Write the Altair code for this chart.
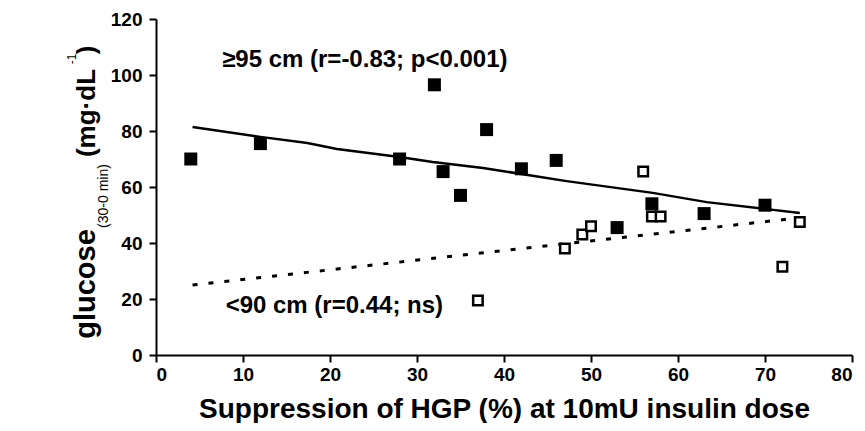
import altair as alt
import pandas as pd

# Data
filled_x = [4, 12, 28, 32, 33, 35, 38, 42, 46, 53, 57, 63, 70]
filled_y = [70, 75.5, 70, 96.5, 65.5, 57, 80.5, 66.5, 69.5, 45.5, 54, 50.5, 53.5]
open_x = [37, 47, 49, 50, 56, 57, 58, 72, 74]
open_y = [19.5, 38, 43, 46, 65.5, 49.5, 49.5, 31.5, 47.5]
fit_large_x = [4.2, 12, 17.4, 20.8, 28, 31.8, 37.6, 47.2, 57.1, 63.3, 70.2, 74]
fit_large_y = [81.4, 77.9, 75.7, 73.6, 70.7, 68.9, 66.8, 62.1, 57.9, 54.6, 52.1, 50.7]
fit_small_x = [4.2, 74]
fit_small_y = [25, 49]

ann_text = ["\u226595 cm (r=-0.83; p<0.001)", "<90 cm (r=0.44; ns)"]
ann_x = [24, 20.5]
ann_y = [103, 15]

FONT = "Liberation Sans"

filled = pd.DataFrame({"x": filled_x, "y": filled_y})
opened = pd.DataFrame({"x": open_x, "y": open_y})
fit_l = pd.DataFrame({"x": fit_large_x, "y": fit_large_y})
fit_s = pd.DataFrame({"x": fit_small_x, "y": fit_small_y})
ann = pd.DataFrame({"x": ann_x, "y": ann_y, "t": ann_text})

xs = alt.Scale(domain=[0, 80], nice=False, zero=False)
ys = alt.Scale(domain=[0, 120], nice=False, zero=False)

xax = alt.Axis(values=list(range(0, 81, 10)), title="Suppression of HGP (%) at 10mU insulin dose",
               grid=False, labelFontSize=19, labelFontWeight="bold", labelFont=FONT,
               titleFontSize=28, titleFont=FONT, titleFontWeight="bold", titlePadding=11,
               tickSize=7, tickWidth=2, domainWidth=2, domainColor="black", tickColor="black",
               labelColor="black", titleColor="black", labelPadding=3)
yax = alt.Axis(values=list(range(0, 121, 20)), title="", grid=False, labelFontSize=19,
               labelFontWeight="bold", labelFont=FONT, tickSize=7, tickWidth=2, domainWidth=2,
               domainColor="black", tickColor="black", labelColor="black", labelPadding=7)

base_x = alt.X("x:Q", scale=xs, axis=xax)
base_y = alt.Y("y:Q", scale=ys, axis=yax)

line_l = alt.Chart(fit_l).mark_line(color="black", strokeWidth=2.5).encode(x=base_x, y=base_y)
line_s = alt.Chart(fit_s).mark_line(color="black", strokeWidth=3, strokeDash=[5, 11]).encode(x=base_x, y=base_y)
pts_f = alt.Chart(filled).mark_square(filled=True, color="black", size=169, opacity=1).encode(x=base_x, y=base_y)
pts_o = alt.Chart(opened).mark_square(filled=False, color="black", size=90, strokeWidth=2.5, opacity=1,
                                      fill="white").encode(x=base_x, y=base_y)
txt = alt.Chart(ann).mark_text(font=FONT, fontSize=24, fontWeight="bold", color="black",
                               align="center", baseline="alphabetic").encode(
    x=alt.X("x:Q", scale=xs), y=alt.Y("y:Q", scale=ys), text="t:N")

# y-axis title pieces (rotated), with subscript and superscript
ytitle = [
    ("glucose", 29, "bold", -61, 265),
    ("(30-0 min)", 14, "normal", -48, 177),
    ("(mg\u00b7dL", 26, "bold", -61, 94),
    ("-1", 12, "normal", -80, 40),
    (")", 26, "bold", -61, 31),
]
ylayers = []
for t, fs, fw, px, py in ytitle:
    ylayers.append(
        alt.Chart(pd.DataFrame({"t": [t]})).mark_text(
            font=FONT, fontSize=fs, fontWeight=fw, color="black", angle=270,
            align="center", baseline="alphabetic").encode(
            x=alt.value(px), y=alt.value(py), text="t:N")
    )

chart = alt.layer(line_l, line_s, pts_f, pts_o, txt, *ylayers).properties(
    width=696, height=336,
    padding={"left": 148, "top": 11, "right": 5, "bottom": 68},
    autosize=alt.AutoSizeParams(type="none"),
).configure_view(stroke=None)

chart.save("out.html", embed_options={"renderer": "svg", "actions": False})
